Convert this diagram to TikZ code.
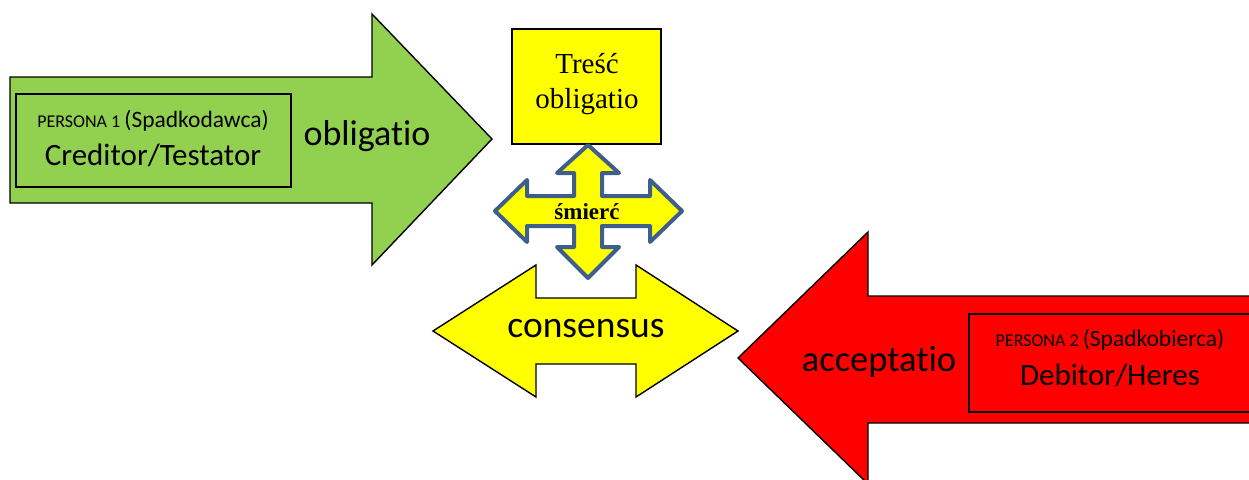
\documentclass[tikz,border=0pt]{standalone}
\usepackage{fontspec}
\setmainfont{Carlito}[RawFeature={-liga;-clig}]
\newfontfamily\serifTNR{Liberation Serif}
\definecolor{mygreen}{HTML}{92D050}
\definecolor{myyellow}{HTML}{FFFF00}
\definecolor{myred}{HTML}{FF0000}
\definecolor{myblue}{HTML}{3E5F8C}
\tikzset{
  bigarrow/.style={draw=black, line width=1.4pt, line join=miter},
  innerbox/.style={draw=black, line width=1.4pt},
  lbl/.style={inner sep=0pt, align=center},
}
\begin{document}
\begin{tikzpicture}[x=1pt,y=-1pt]
\useasboundingbox (0,0) rectangle (1249,479);
\clip (0,0) rectangle (1249,479);
% green arrow
\path[bigarrow, fill=mygreen] (10,77) -- (372,77) -- (372,14) -- (492,139) -- (372,265) -- (372,203) -- (10,203) -- cycle;
\draw[innerbox] (16,94) rectangle (291,187);
\node[lbl] (p1) at (153,121) {\fontsize{18}{20}\selectfont PERSONA 1 \fontsize{23.5}{26}\selectfont(Spadkodawca)};
\node[lbl] (cred) at (153,155) {\fontsize{31}{34}\selectfont Creditor/Testator};
\node[lbl] (obl) at (367,136) {\fontsize{36}{40}\selectfont obligatio};
% red arrow
\path[bigarrow, fill=myred] (738,358) -- (868,232) -- (868,296) -- (1262,296) -- (1262,423) -- (868,423) -- (868,484) -- cycle;
\draw[innerbox] (969,314) rectangle (1262,412);
\node[lbl] (p2) at (1110,340) {\fontsize{18}{20}\selectfont PERSONA 2 \fontsize{23.5}{26}\selectfont(Spadkobierca)};
\node[lbl] (deb) at (1110,375) {\fontsize{31}{34}\selectfont Debitor/Heres};
\node[lbl] (acc) at (879,362) {\fontsize{36.5}{40}\selectfont acceptatio};
% tresc box
\node[draw=black, line width=1.4pt, fill=myyellow, minimum width=149pt, minimum height=115pt, inner sep=0pt] (tresc) at (586.5,86.5) {};
\node[lbl, font={\serifTNR\fontsize{29}{35}\selectfont}] (trescT) at (587,84) {Treść\\obligatio};
% quad arrow
\path[draw=myblue, line width=4pt, line join=round, fill=myyellow]
 (588,145) -- (619,173) -- (602,173) -- (602,196) -- (650,196) -- (650,180) -- (682,211) -- (650,242) -- (650,226) -- (602,226) -- (602,247) -- (619,247) -- (588,278) -- (557,247) -- (574,247) -- (574,226) -- (527,226) -- (527,242) -- (495,211) -- (527,180) -- (527,196) -- (574,196) -- (574,173) -- (557,173) -- cycle;
\node[lbl, font={\serifTNR\bfseries\fontsize{23}{25}\selectfont}] (smierc) at (587,212) {śmierć};
% consensus
\path[bigarrow, fill=myyellow] (433,331) -- (536,265) -- (536,298) -- (636,298) -- (636,265) -- (738,331) -- (636,397) -- (636,364) -- (536,364) -- (536,397) -- cycle;
\node[lbl] (cons) at (586,329) {\fontsize{37.5}{40}\selectfont consensus};
\end{tikzpicture}
\end{document}
